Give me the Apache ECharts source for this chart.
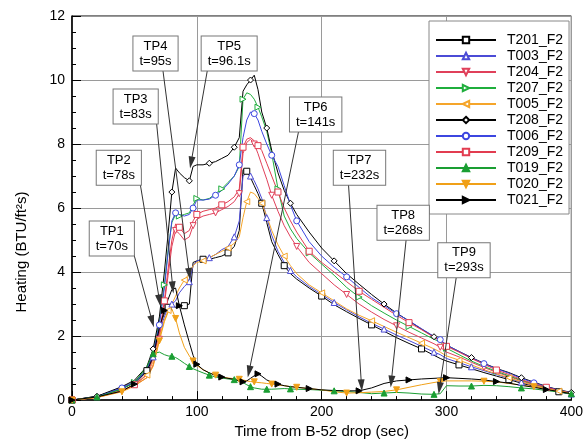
<!DOCTYPE html>
<html>
<head>
<meta charset="utf-8">
<script src="https://cdn.jsdelivr.net/npm/echarts@6/dist/echarts.min.js"></script>
<style>
html,body{margin:0;padding:0;background:#fff;}
#chart{width:586px;height:444px;}
</style>
</head>
<body>
<div id="chart"></div>
<script>
// ---------- data ----------
const times = [0,20,40,50,60,65,70,74,77,80,83,86,90,94,97,100,105,110,115,120,125,130,134,137,140,143,146,149,152,156,160,165,170,175,180,190,200,210,220,230,240,250,260,270,280,290,295,300,310,320,330,340,350,360,370,380,390,400];

const seriesNames = ['T201_F2','T003_F2','T204_F2','T207_F2','T005_F2','T208_F2','T006_F2','T209_F2','T019_F2','T020_F2','T021_F2'];

const T201_F2 = [0,0.12,0.35,0.55,0.92,1.45,2.3,2.7,2.9,2.95,2.9,2.9,2.95,3.0,4.3,4.35,4.4,4.4,4.45,4.5,4.6,4.8,5.3,7.2,7.15,6.95,6.7,6.45,6.15,5.55,4.95,4.55,4.2,3.95,3.78,3.5,3.25,2.98,2.76,2.55,2.35,2.15,1.95,1.77,1.6,1.4,1.3,1.22,1.1,0.98,0.86,0.75,0.64,0.53,0.43,0.34,0.26,0.18];
const T003_F2 = [0,0.11,0.4,0.58,0.88,1.35,2.15,2.6,2.9,3.0,3.1,3.35,3.55,3.7,4.2,4.35,4.4,4.45,4.55,4.7,4.8,5.1,5.6,7.0,7.1,7.0,6.85,6.6,6.3,5.7,5.15,4.65,4.3,4.05,3.85,3.55,3.3,3.05,2.82,2.6,2.4,2.22,2.03,1.86,1.68,1.5,1.42,1.3,1.17,1.04,0.92,0.8,0.68,0.56,0.45,0.36,0.27,0.19];
const T204_F2 = [0,0.08,0.28,0.46,0.7,1.1,1.9,3.0,3.9,4.8,5.3,5.2,5.0,5.1,5.45,5.65,5.75,5.8,5.85,5.95,6.05,6.2,6.45,7.7,8.05,8.15,8.0,7.7,7.35,6.9,6.4,5.9,5.45,5.1,4.8,4.3,3.95,3.6,3.3,3.0,2.75,2.52,2.32,2.12,1.94,1.76,1.65,1.5,1.35,1.18,1.02,0.87,0.74,0.6,0.48,0.38,0.29,0.21];
const T207_F2 = [0,0.1,0.36,0.55,1.0,1.5,2.45,3.6,4.7,5.55,5.8,5.75,5.8,5.85,6.1,6.3,6.25,6.3,6.45,6.6,6.8,7.0,7.3,9.4,9.6,9.55,9.4,9.15,8.85,8.4,7.7,6.6,5.75,5.35,5.05,4.6,4.25,3.9,3.52,3.22,2.95,2.72,2.5,2.3,2.1,1.9,1.82,1.62,1.42,1.22,1.05,0.9,0.76,0.62,0.5,0.39,0.29,0.21];
const T005_F2 = [0,0.08,0.3,0.46,0.78,1.2,1.95,2.5,2.8,3.0,3.25,3.5,3.75,3.95,4.2,4.3,4.35,4.45,4.55,4.65,4.75,4.9,5.1,5.7,6.2,6.5,6.45,6.3,6.15,5.75,5.3,4.85,4.5,4.2,3.95,3.6,3.35,3.1,2.85,2.65,2.48,2.3,2.12,1.95,1.78,1.6,1.5,1.38,1.25,1.1,0.95,0.82,0.7,0.57,0.46,0.36,0.28,0.2];
const T208_F2 = [0,0.12,0.42,0.62,1.05,1.6,2.6,4.0,5.2,6.5,7.25,7.1,6.95,6.85,7.3,7.35,7.35,7.4,7.45,7.55,7.65,7.9,8.2,9.65,9.85,10.0,10.15,9.7,9.0,8.5,7.8,7.1,6.55,6.15,5.8,5.25,4.75,4.35,3.95,3.62,3.3,3.0,2.72,2.47,2.22,1.98,1.88,1.72,1.52,1.33,1.15,0.99,0.86,0.7,0.56,0.43,0.32,0.24];
const T006_F2 = [0,0.1,0.38,0.55,0.95,1.45,2.35,3.5,4.6,5.6,5.85,5.8,5.75,5.8,6.0,6.25,6.25,6.28,6.4,6.55,6.75,7.0,7.35,8.2,8.75,9.0,8.95,8.75,8.4,8.0,7.65,7.3,6.7,6.1,5.6,4.95,4.5,4.15,3.85,3.52,3.2,2.95,2.7,2.48,2.23,1.99,1.89,1.72,1.52,1.32,1.14,0.98,0.84,0.68,0.54,0.42,0.31,0.23];
const T209_F2 = [0,0.09,0.3,0.48,0.8,1.3,2.1,3.1,4.1,5.0,5.5,5.4,5.2,5.3,5.6,5.8,5.9,5.95,6.0,6.1,6.2,6.35,6.6,7.9,8.15,8.2,8.1,7.95,7.8,7.4,7.0,6.5,6.0,5.6,5.25,4.65,4.3,4.0,3.7,3.4,3.15,2.9,2.65,2.42,2.2,1.96,1.86,1.68,1.5,1.3,1.12,0.94,0.8,0.64,0.51,0.4,0.3,0.22];
const T019_F2 = [0,0.1,0.34,0.55,1.05,1.45,1.5,1.42,1.38,1.37,1.33,1.26,1.15,1.05,0.98,0.93,0.85,0.78,0.72,0.69,0.66,0.64,0.6,0.55,0.48,0.42,0.38,0.36,0.34,0.34,0.34,0.35,0.36,0.35,0.34,0.33,0.31,0.29,0.27,0.24,0.2,0.22,0.24,0.22,0.19,0.18,0.2,0.45,0.44,0.44,0.46,0.45,0.42,0.38,0.35,0.3,0.25,0.2];
const T020_F2 = [0,0.08,0.26,0.44,0.7,1.05,1.85,2.45,2.75,2.85,2.55,2.1,1.65,1.38,1.22,1.08,0.95,0.85,0.78,0.72,0.69,0.67,0.65,0.63,0.6,0.58,0.57,0.55,0.54,0.52,0.5,0.47,0.45,0.42,0.4,0.36,0.32,0.26,0.22,0.23,0.25,0.27,0.32,0.4,0.48,0.55,0.58,0.6,0.6,0.6,0.59,0.57,0.52,0.47,0.42,0.35,0.28,0.22];
const T021_F2 = [0,0.1,0.28,0.5,0.9,1.35,2.25,2.8,3.15,3.45,3.5,2.95,2.35,1.8,1.4,1.12,0.95,0.85,0.77,0.72,0.68,0.65,0.6,0.57,0.6,0.68,0.76,0.82,0.75,0.63,0.56,0.5,0.45,0.42,0.4,0.36,0.32,0.3,0.29,0.29,0.38,0.52,0.6,0.63,0.66,0.68,0.69,0.7,0.68,0.66,0.63,0.58,0.53,0.46,0.4,0.33,0.27,0.2];

const xTickValues = [0,100,200,300,400];
const yTickValues = [0,2,4,6,8,10,12];

// annotations: label, box centre, arrow tail, arrow tip (data coordinates)
const annLabels = ['TP1\nt=70s','TP2\nt=78s','TP3\nt=83s','TP4\nt=95s','TP5\nt=96.1s','TP6\nt=141s','TP7\nt=232s','TP8\nt=268s','TP9\nt=293s'];
const annBox  = [[31.9,5.05],[37.5,7.26],[51.0,9.17],[66.9,10.83],[125.9,10.83],[195.2,8.92],[230.3,7.26],[265.3,5.54],[314.0,4.37]];
const annTail = [[49.4,4.58],[54.2,6.86],[67.5,8.75],[72.7,10.34],[108.6,10.34],[181.7,8.43],[221.5,6.74],[267.7,5.02],[308.0,3.88]];
const annTip  = [[64.3,2.46],[70.1,3.11],[80.7,3.52],[94.0,3.94],[95.4,7.42],[141.8,0.89],[231.9,0.46],[255.8,0.58],[294.4,0.37]];

// ---------- styles ----------
const FONT = '"Liberation Sans", Arial, Helvetica, sans-serif';
const seriesValues = [T201_F2,T003_F2,T204_F2,T207_F2,T005_F2,T208_F2,T006_F2,T209_F2,T019_F2,T020_F2,T021_F2];
const colors = ['#000000','#4b4bd6','#e0405a','#1fae3c','#f5a52a','#000000','#3c46e0','#e23c50','#1a9e32','#f0a018','#000000'];
const symbols = ['rect','triangle','triangle','triangle','triangle','diamond','circle','rect','triangle','triangle','triangle'];
const hollow = [true,true,true,true,true,true,true,true,false,false,false];
const rotations = [0,0,180,-90,90,0,0,0,0,180,-90];
const markerOffset = [0,1,2,3,0,1,2,3,1,2,3];

const chart = echarts.init(document.getElementById('chart'), null, {renderer:'canvas'});

const series = seriesNames.map((name,k)=>({
  name: name,
  type: 'line',
  data: times.map((t,i)=>[t, seriesValues[k][i]]),
  symbol: symbols[k],
  symbolRotate: rotations[k],
  symbolSize: (v,p)=> (p.dataIndex===0 || p.dataIndex % 4 === markerOffset[k]) ? 6 : 0,
  showSymbol: true,
  lineStyle: {color: colors[k], width: 1},
  itemStyle: {color: hollow[k] ? '#ffffff' : colors[k], borderColor: colors[k], borderWidth: 1},
  emphasis: {disabled: true},
  silent: true,
  animation: false,
  z: 2
}));

series.push({
  name: 'arrows',
  type: 'line',
  data: annTip,
  showSymbol: false,
  lineStyle: {opacity: 0},
  silent: true,
  animation: false,
  z: 3,
  markLine: {
    silent: true,
    animation: false,
    symbol: ['none','triangle'],
    symbolSize: [7,12],
    label: {show: false},
    lineStyle: {color: '#333', width: 1, type: 'solid'},
    itemStyle: {color: '#111'},
    emphasis: {disabled: true},
    data: annTail.map((p,i)=>[{coord: p},{coord: annTip[i]}])
  }
});

const option = {
  animation: false,
  backgroundColor: '#fff',
  grid: {left: 72, right: 13, top: 16, bottom: 38, show: true, borderColor: '#000', borderWidth: 1, backgroundColor: 'transparent'},
  legend: {
    orient: 'vertical', left: 429, top: 21,
    data: seriesNames,
    itemWidth: 60, itemHeight: 8, itemGap: 2,
    padding: [12,6,7,6],
    backgroundColor: '#fff', borderColor: '#888', borderWidth: 1,
    selectedMode: false,
    textStyle: {fontFamily: FONT, fontSize: 14, color: '#000', lineHeight: 14, padding: [0,0,0,6]}
  },
  xAxis: {
    type: 'value', min: xTickValues[0], max: xTickValues[xTickValues.length-1], interval: xTickValues[1]-xTickValues[0],
    name: 'Time from B-52 drop (sec)', nameLocation: 'middle', nameGap: 17,
    nameTextStyle: {fontFamily: FONT, fontSize: 15, color: '#000'},
    axisLine: {show: true, onZero: false, lineStyle: {color: '#000', width: 1.5}},
    axisTick: {show: true, inside: true, length: 9, lineStyle: {color: '#000', width: 1}},
    minorTick: {show: true, splitNumber: 5, length: 4, lineStyle: {color: '#000', width: 1}},
    axisLabel: {fontFamily: FONT, fontSize: 14, color: '#000', margin: 5},
    splitLine: {show: true, lineStyle: {color: '#9a9a9a', width: 1}}
  },
  yAxis: {
    type: 'value', min: yTickValues[0], max: yTickValues[yTickValues.length-1], interval: yTickValues[1]-yTickValues[0],
    name: 'Heating (BTU/ft\u00B2s)', nameLocation: 'middle', nameGap: 43,
    nameTextStyle: {fontFamily: FONT, fontSize: 15, color: '#000', padding: [0,88,0,0]},
    axisLine: {show: true, onZero: false, lineStyle: {color: '#000', width: 1.5}},
    axisTick: {show: true, inside: true, length: 9, lineStyle: {color: '#000', width: 1}},
    minorTick: {show: true, splitNumber: 4, length: 4, lineStyle: {color: '#000', width: 1}},
    axisLabel: {fontFamily: FONT, fontSize: 14, color: '#000', margin: 7},
    splitLine: {show: true, lineStyle: {color: '#9a9a9a', width: 1}}
  },
  series: series
};

chart.setOption(option);

const boxes = annLabels.map((txt,i)=>{
  const p = chart.convertToPixel({gridIndex: 0}, annBox[i]);
  return {
    type: 'text', x: p[0], y: p[1], z: 100, silent: true,
    style: {text: txt, align: 'center', verticalAlign: 'middle', font: '13px ' + FONT, fill: '#000',
      backgroundColor: '#fff', borderColor: '#777', borderWidth: 1, padding: [2,6,2,6], lineHeight: 15}
  };
});
chart.setOption({graphic: boxes});
</script>
</body>
</html>
